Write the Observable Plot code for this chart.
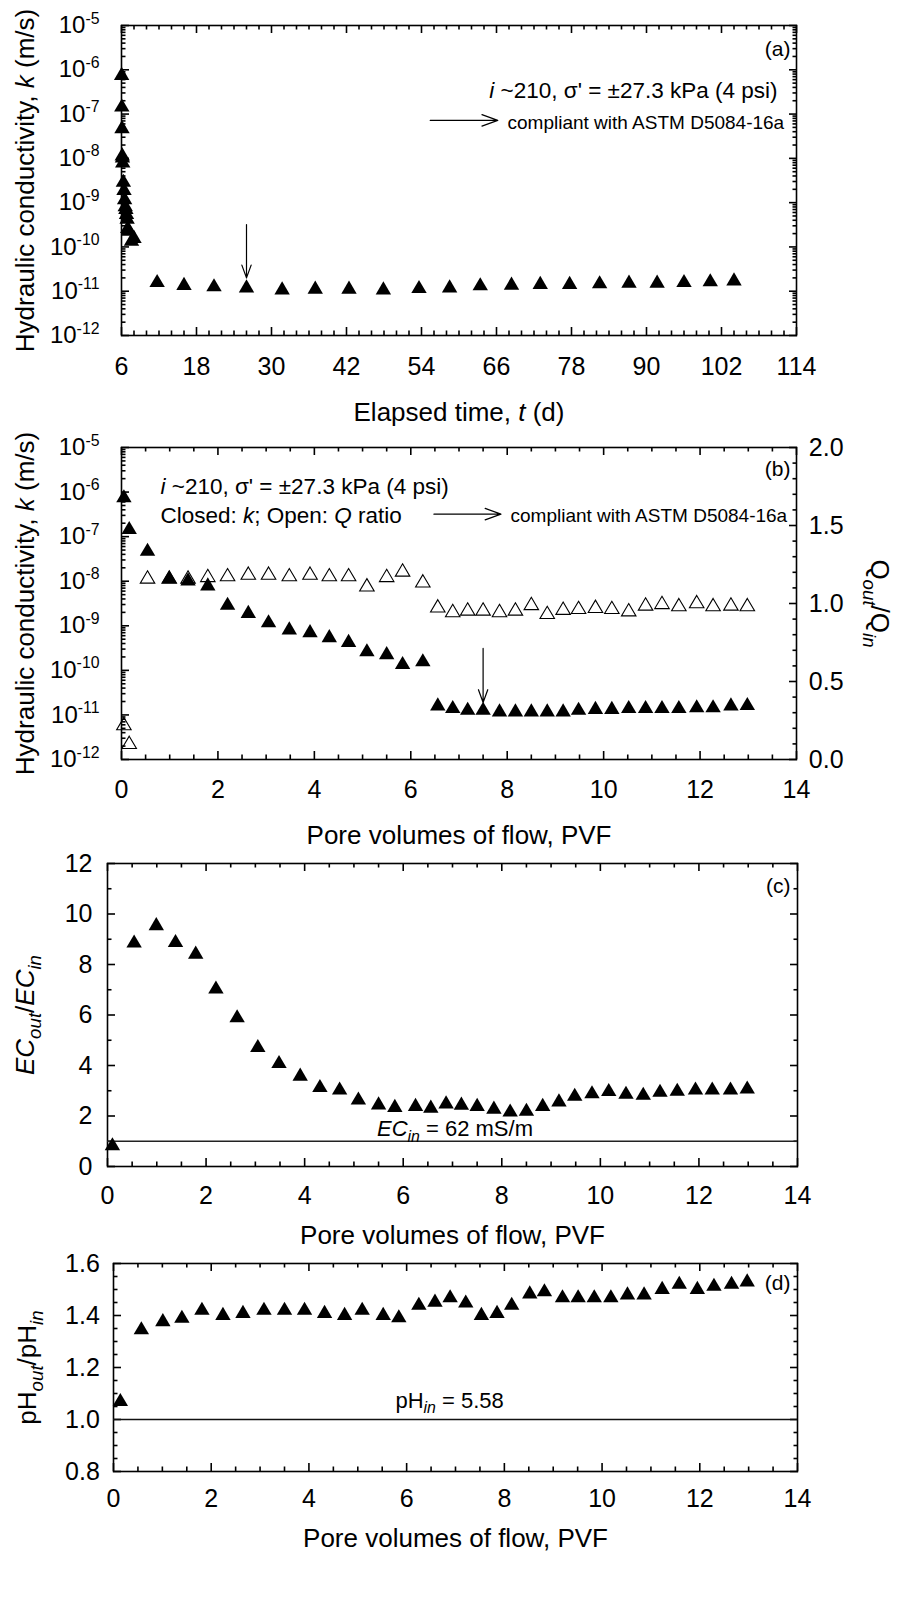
<!DOCTYPE html>
<html>
<head>
<meta charset="utf-8">
<script src="https://cdn.jsdelivr.net/npm/d3@7"></script>
<script src="https://cdn.jsdelivr.net/npm/@observablehq/plot@0.6"></script>
<style>
  html, body { margin: 0; padding: 0; background: #fff; }
  #wrap { position: relative; width: 898px; height: 1613px; overflow: hidden; }
  #wrap svg { position: absolute; left: 0; top: 0; overflow: visible; background: transparent !important; }
</style>
</head>
<body>
<div id="wrap"></div>
<script>
// ---------------- DATA ----------------
// Panel (a): hydraulic conductivity vs elapsed time (d)
const timeA = [6.02, 6.05, 6.08, 6.12, 6.15, 6.2, 6.3, 6.4, 6.5, 6.6, 6.7, 6.8, 6.9, 7.0, 7.2, 7.6, 8.0,
  11.7, 16.0, 20.8, 26.0, 31.7, 37.0, 42.4, 47.9, 53.6, 58.5, 63.4, 68.4, 73.0, 77.7, 82.5, 87.2, 91.7, 96.0, 100.2, 104.0];
const kA = [8.3e-7, 1.6e-7, 5.2e-8, 1.26e-8, 1.13e-8, 8.7e-9, 3.2e-9, 2.1e-9, 1.3e-9, 9.0e-10, 7.8e-10, 6.0e-10, 4.7e-10, 2.9e-10, 2.5e-10, 1.5e-10, 1.73e-10,
  1.75e-11, 1.5e-11, 1.4e-11, 1.32e-11, 1.19e-11, 1.24e-11, 1.24e-11, 1.19e-11, 1.28e-11, 1.32e-11, 1.47e-11, 1.52e-11, 1.58e-11, 1.58e-11, 1.63e-11, 1.69e-11, 1.69e-11, 1.75e-11, 1.81e-11, 1.9e-11];

// Panel (b): k (closed) and Q ratio (open) vs pore volumes of flow
const pvfB = [0.05, 0.16, 0.54, 0.99, 1.38, 1.79, 2.2, 2.63, 3.05, 3.48, 3.91, 4.31, 4.71, 5.09, 5.5, 5.83, 6.25,
  6.56, 6.87, 7.18, 7.5, 7.84, 8.17, 8.5, 8.83, 9.16, 9.48, 9.83, 10.17, 10.52, 10.87, 11.21, 11.56, 11.93, 12.27, 12.64, 12.98];
const kB = [8.3e-7, 1.6e-7, 5.2e-8, 1.26e-8, 1.13e-8, 8.7e-9, 3.2e-9, 2.1e-9, 1.3e-9, 9.0e-10, 7.8e-10, 6.0e-10, 4.7e-10, 2.9e-10, 2.5e-10, 1.5e-10, 1.73e-10,
  1.77e-11, 1.54e-11, 1.41e-11, 1.41e-11, 1.3e-11, 1.3e-11, 1.3e-11, 1.3e-11, 1.3e-11, 1.41e-11, 1.48e-11, 1.48e-11, 1.54e-11, 1.54e-11, 1.54e-11, 1.54e-11, 1.61e-11, 1.61e-11, 1.77e-11, 1.8e-11];
const qB = [0.23, 0.11, 1.17, 1.17, 1.17, 1.18, 1.185, 1.195, 1.195, 1.185, 1.195, 1.185, 1.185, 1.12, 1.18, 1.215, 1.145,
  0.985, 0.955, 0.965, 0.965, 0.955, 0.965, 1.0, 0.943, 0.97, 0.975, 0.982, 0.975, 0.96, 0.997, 1.007, 0.993, 1.012, 0.993, 0.997, 0.993];

// Panel (c): EC_out/EC_in
const pvfC = [0.1, 0.54, 0.99, 1.38, 1.79, 2.2, 2.63, 3.05, 3.48, 3.91, 4.31, 4.71, 5.09, 5.5, 5.83, 6.25, 6.56, 6.87,
  7.18, 7.5, 7.84, 8.17, 8.5, 8.83, 9.16, 9.48, 9.83, 10.17, 10.52, 10.87, 11.21, 11.56, 11.93, 12.27, 12.64, 12.98];
const ecC = [0.9, 8.93, 9.62, 8.95, 8.49, 7.11, 5.97, 4.79, 4.16, 3.66, 3.21, 3.11, 2.71, 2.52, 2.42, 2.46, 2.39, 2.56,
  2.51, 2.46, 2.35, 2.24, 2.27, 2.46, 2.64, 2.86, 2.96, 3.05, 2.94, 2.9, 3.02, 3.06, 3.11, 3.11, 3.11, 3.15];
const ecRef = [1];

// Panel (d): pH_out/pH_in
const pvfD = [0.14, 0.57, 1.01, 1.4, 1.81, 2.24, 2.65, 3.08, 3.5, 3.91, 4.32, 4.73, 5.09, 5.52, 5.84, 6.25, 6.58, 6.89,
  7.21, 7.53, 7.85, 8.15, 8.52, 8.82, 9.19, 9.51, 9.84, 10.18, 10.52, 10.86, 11.23, 11.58, 11.95, 12.29, 12.65, 12.97];
const phD = [1.077, 1.353, 1.384, 1.397, 1.428, 1.408, 1.416, 1.428, 1.428, 1.428, 1.416, 1.408, 1.428, 1.408, 1.399, 1.447, 1.459, 1.476,
  1.456, 1.408, 1.416, 1.447, 1.491, 1.499, 1.476, 1.476, 1.476, 1.476, 1.487, 1.487, 1.508, 1.528, 1.508, 1.52, 1.528, 1.537];
const phRef = [1];

// Tick values
const tickTimeMajor = [6, 18, 30, 42, 54, 66, 78, 90, 102, 114];
const tickPvfMajor = [0, 2, 4, 6, 8, 10, 12, 14];
const tickDecades = [1e-12, 1e-11, 1e-10, 1e-9, 1e-8, 1e-7, 1e-6, 1e-5];
const tickQMajor = [0, 0.5, 1.0, 1.5, 2.0];
const tickECMajor = [0, 2, 4, 6, 8, 10, 12];
const tickPHMajor = [0.8, 1.0, 1.2, 1.4, 1.6];

// Text
const titleK = "Hydraulic conductivity, {i:k} (m/s)";
const titleTime = "Elapsed time, {i:t} (d)";
const titlePVF = "Pore volumes of flow, PVF";
const titleQ = "Q{isub:out}/Q{isub:in}";
const titleEC = "{i:EC}{isub:out}/{i:EC}{isub:in}";
const titlePH = "pH{isub:out}/pH{isub:in}";
const noteCond = "{i:i} ~210, σ' = ±27.3 kPa (4 psi)";
const noteClosed = "Closed: {i:k}; Open: {i:Q} ratio";
const noteAstm = "compliant with ASTM D5084-16a";
const noteEC = "{i:EC}{isub:in} = 62 mS/m";
const notePH = "pH{isub:in} = 5.58";

// ---------------- helpers ----------------
const W = 898, H = 1613;
const STYLE = 'background: transparent; overflow: visible; font-family: "Liberation Sans", Arial, Helvetica, sans-serif; color: black;';
const range = (a, b, s) => { const out = []; for (let i = 0; a + i * s <= b + 1e-9; i++) out.push(+(a + i * s).toFixed(6)); return out; };
const minorOf = (all, major) => all.filter(v => !major.some(m => Math.abs(m - v) < 1e-9));
const logMinor = [];
for (let e = -12; e < -5; e++) for (let m = 2; m <= 9; m++) logMinor.push(m * Math.pow(10, e));

const tri = {
  draw(ctx, size) {
    const r = Math.sqrt(size / Math.PI);
    const w = r * 1.48, h = r * 1.26;
    ctx.moveTo(0, -h); ctx.lineTo(w, h); ctx.lineTo(-w, h); ctx.closePath();
  }
};

function margins(f) {
  return {width: W, height: H, marginLeft: f.left, marginRight: W - f.right, marginTop: f.top, marginBottom: H - f.bottom};
}
const SW = 1.6, MAJ = 8, MIN = 4.5;
// inward ticks on bottom + top
function xTicks(major, minor) {
  const m = [];
  for (const [vals, len] of [[major, MAJ], [minor, MIN]]) {
    m.push(Plot.axisX(vals, {anchor: "bottom", tickSize: len, dy: -len, fill: "none", label: null, strokeWidth: SW}));
    m.push(Plot.axisX(vals, {anchor: "top", tickSize: len, dy: len - 1, fill: "none", label: null, strokeWidth: SW}));
  }
  return m;
}
function xLabels(major, gap) {
  return Plot.axisX(major, {anchor: "bottom", tickSize: 0, tickPadding: gap, fontSize: 25, label: null});
}
// inward ticks on left (and optional right)
function yTicks(major, minor, left, right) {
  const m = [];
  for (const [vals, len] of [[major, MAJ], [minor, MIN]]) {
    if (left) m.push(Plot.axisY(vals, {anchor: "left", tickSize: len, dx: len, fill: "none", label: null, strokeWidth: SW}));
    if (right) m.push(Plot.axisY(vals, {anchor: "right", tickSize: len, dx: -len, fill: "none", label: null, strokeWidth: SW}));
  }
  return m;
}
function yLabels(major, anchor, gap, fontSize, fmt) {
  return Plot.axisY(major, {anchor, tickSize: 0, tickPadding: gap, fontSize, tickFormat: fmt, label: null});
}
const logFmt = d => "10{sup:" + Math.round(Math.log10(d)) + "}";

// convert "{i:..}", "{isub:..}", "{sup:..}" markup into tspans
function richify(svg) {
  d3.select(svg).selectAll("text").each(function () {
    const s = this.textContent;
    if (!s || !s.includes("{")) return;
    const parts = [];
    const re = /\{(\w+):([^}]*)\}/g;
    let last = 0, m;
    while ((m = re.exec(s))) {
      if (m.index > last) parts.push(["n", s.slice(last, m.index)]);
      parts.push([m[1], m[2]]);
      last = re.lastIndex;
    }
    if (last < s.length) parts.push(["n", s.slice(last)]);
    const el = d3.select(this);
    el.text(null);
    let shift = 0;
    for (const [k, t] of parts) {
      const ts = el.append("tspan").text(t);
      let target = 0, scale = 1, italic = false;
      if (k === "i") italic = true;
      if (k === "isub") { target = 0.27; scale = 0.72; italic = true; }
      if (k === "sub") { target = 0.27; scale = 0.72; }
      if (k === "sup") { target = -0.4; scale = 0.66; }
      if (italic) ts.attr("font-style", "italic");
      if (scale !== 1) ts.attr("font-size", scale + "em");
      const d = target - shift;
      if (Math.abs(d) > 1e-9) ts.attr("dy", (d / scale).toFixed(3) + "em");
      shift = target;
    }
  });
}

const wrap = document.getElementById("wrap");
function add(plot) { richify(plot); wrap.appendChild(plot); }

// frames (page pixel boxes of each panel)
const fA = {left: 121, right: 796, top: 25, bottom: 335};
const fB = {left: 121, right: 796, top: 447, bottom: 759};
const fC = {left: 107, right: 797, top: 863, bottom: 1166};
const fD = {left: 113, right: 797, top: 1263, bottom: 1471};

// annotation arrows (data coordinates)
const arrowA1 = [{x1: 55.4, x2: 66.2, y1: 7.2e-8, y2: 7.2e-8}];
const arrowA2 = [{x1: 26.0, x2: 26.0, y1: 3.2e-10, y2: 2.0e-11}];
const arrowB1 = [{x1: 6.48, x2: 7.87, y1: 3.2e-7, y2: 3.2e-7}];
const arrowB2 = [{x1: 7.5, x2: 7.5, y1: 3.1e-10, y2: 1.9e-11}];

const rowsA = timeA.map((t, i) => ({t, k: kA[i]}));
const rowsB = pvfB.map((p, i) => ({p, k: kB[i], q: qB[i]}));
const rowsC = pvfC.map((p, i) => ({p, v: ecC[i]}));
const rowsD = pvfD.map((p, i) => ({p, v: phD[i]}));

const arrowOpts = {x1: "x1", y1: "y1", x2: "x2", y2: "y2", stroke: "black", strokeWidth: 1.2, headAngle: 40};
const R = 5.2;
const pvfMinor = minorOf(range(0, 14, 0.5), tickPvfMajor);

// ---------------- Panel (a) ----------------
add(Plot.plot({
  ...margins(fA), style: STYLE,
  x: {domain: [6, 114]},
  y: {type: "log", domain: [1e-12, 1e-5]},
  marks: [
    ...xTicks(tickTimeMajor, minorOf(range(6, 114, 2), tickTimeMajor)),
    xLabels(tickTimeMajor, 21.7),
    ...yTicks(tickDecades, logMinor, true, true),
    yLabels(tickDecades, "left", 22, 24, logFmt),
    Plot.frame({stroke: "black", strokeWidth: 1.6}),
    Plot.dot(rowsA, {x: "t", y: "k", symbol: tri, r: R, fill: "black", stroke: "none"}),
    Plot.arrow(arrowA1, {...arrowOpts, headLength: 21}),
    Plot.arrow(arrowA2, {...arrowOpts, headLength: 17}),
    Plot.text(["(a)"], {frameAnchor: "top-right", textAnchor: "end", lineAnchor: "middle", dx: -6, dy: 23.5, fontSize: 21}),
    Plot.text([noteCond], {frameAnchor: "top-right", textAnchor: "end", lineAnchor: "bottom", dx: -19, dy: 72, fontSize: 22.5}),
    Plot.text([noteAstm], {frameAnchor: "top-left", textAnchor: "start", lineAnchor: "bottom", dx: 386, dy: 103, fontSize: 19}),
    Plot.text([titleK], {frameAnchor: "left", rotate: -90, textAnchor: "middle", lineAnchor: "bottom", dx: -88, fontSize: 26}),
    Plot.text([titleTime], {frameAnchor: "bottom", textAnchor: "middle", lineAnchor: "bottom", dy: 85, fontSize: 26})
  ]
}));

// ---------------- Panel (b): Q ratio layer (right axis, drawn below) ----------------
add(Plot.plot({
  ...margins(fB), style: STYLE,
  x: {domain: [0, 14], axis: null},
  y: {domain: [0, 2]},
  marks: [
    ...yTicks(tickQMajor, minorOf(range(0, 2, 0.1), tickQMajor), false, true),
    yLabels(tickQMajor, "right", 12.3, 25, d3.format(".1f")),
    Plot.dot(rowsB, {x: "p", y: "q", symbol: tri, r: 4.9, fill: "white", stroke: "black", strokeWidth: 1.1}),
    Plot.text([titleQ], {frameAnchor: "right", rotate: 90, textAnchor: "middle", lineAnchor: "bottom", dx: 74, fontSize: 26})
  ]
}));

// ---------------- Panel (b): k layer ----------------
add(Plot.plot({
  ...margins(fB), style: STYLE,
  x: {domain: [0, 14]},
  y: {type: "log", domain: [1e-12, 1e-5]},
  marks: [
    ...xTicks(tickPvfMajor, pvfMinor),
    xLabels(tickPvfMajor, 21),
    ...yTicks(tickDecades, logMinor, true, false),
    yLabels(tickDecades, "left", 22, 24, logFmt),
    Plot.frame({stroke: "black", strokeWidth: 1.6}),
    Plot.dot(rowsB, {x: "p", y: "k", symbol: tri, r: R, fill: "black", stroke: "none"}),
    Plot.arrow(arrowB1, {...arrowOpts, headLength: 21}),
    Plot.arrow(arrowB2, {...arrowOpts, headLength: 17}),
    Plot.text(["(b)"], {frameAnchor: "top-right", textAnchor: "end", lineAnchor: "middle", dx: -6, dy: 21.5, fontSize: 21}),
    Plot.text([noteCond], {frameAnchor: "top-left", textAnchor: "start", lineAnchor: "bottom", dx: 39, dy: 46, fontSize: 22.5}),
    Plot.text([noteClosed], {frameAnchor: "top-left", textAnchor: "start", lineAnchor: "bottom", dx: 39, dy: 75.5, fontSize: 22.5}),
    Plot.text([noteAstm], {frameAnchor: "top-left", textAnchor: "start", lineAnchor: "bottom", dx: 389, dy: 74, fontSize: 19}),
    Plot.text([titleK], {frameAnchor: "left", rotate: -90, textAnchor: "middle", lineAnchor: "bottom", dx: -88, fontSize: 26}),
    Plot.text([titlePVF], {frameAnchor: "bottom", textAnchor: "middle", lineAnchor: "bottom", dy: 84, fontSize: 26})
  ]
}));

// ---------------- Panel (c) ----------------
add(Plot.plot({
  ...margins(fC), style: STYLE,
  x: {domain: [0, 14]},
  y: {domain: [0, 12]},
  marks: [
    ...xTicks(tickPvfMajor, pvfMinor),
    xLabels(tickPvfMajor, 20),
    ...yTicks(tickECMajor, minorOf(range(0, 12, 1), tickECMajor), true, true),
    yLabels(tickECMajor, "left", 15, 25, d => String(d)),
    Plot.frame({stroke: "black", strokeWidth: 1.6}),
    Plot.ruleY(ecRef, {stroke: "#222", strokeWidth: 1.5}),
    Plot.dot(rowsC, {x: "p", y: "v", symbol: tri, r: R, fill: "black", stroke: "none"}),
    Plot.text([{x: 7.05, y: ecRef[0], s: noteEC}], {x: "x", y: "y", text: "s", textAnchor: "middle", lineAnchor: "bottom", dy: -5, fontSize: 22}),
    Plot.text(["(c)"], {frameAnchor: "top-right", textAnchor: "end", lineAnchor: "middle", dx: -7, dy: 23, fontSize: 21}),
    Plot.text([titleEC], {frameAnchor: "left", rotate: -90, textAnchor: "middle", lineAnchor: "bottom", dx: -74, fontSize: 26}),
    Plot.text([titlePVF], {frameAnchor: "bottom", textAnchor: "middle", lineAnchor: "bottom", dy: 77, fontSize: 26})
  ]
}));

// ---------------- Panel (d) ----------------
add(Plot.plot({
  ...margins(fD), style: STYLE,
  x: {domain: [0, 14]},
  y: {domain: [0.8, 1.6]},
  marks: [
    ...xTicks(tickPvfMajor, pvfMinor),
    xLabels(tickPvfMajor, 18),
    ...yTicks(tickPHMajor, minorOf(range(0.8, 1.6, 0.05), tickPHMajor), true, true),
    yLabels(tickPHMajor, "left", 13.7, 25, d3.format(".1f")),
    Plot.frame({stroke: "black", strokeWidth: 1.6}),
    Plot.ruleY(phRef, {stroke: "#111", strokeWidth: 1.5}),
    Plot.dot(rowsD, {x: "p", y: "v", symbol: tri, r: R, fill: "black", stroke: "none"}),
    Plot.text([{x: 6.88, y: phRef[0], s: notePH}], {x: "x", y: "y", text: "s", textAnchor: "middle", lineAnchor: "bottom", dy: -12, fontSize: 22}),
    Plot.text(["(d)"], {frameAnchor: "top-right", textAnchor: "end", lineAnchor: "middle", dx: -7, dy: 20, fontSize: 21}),
    Plot.text([titlePH], {frameAnchor: "left", rotate: -90, textAnchor: "middle", lineAnchor: "bottom", dx: -78, fontSize: 26}),
    Plot.text([titlePVF], {frameAnchor: "bottom", textAnchor: "middle", lineAnchor: "bottom", dy: 75, fontSize: 26})
  ]
}));
</script>
</body>
</html>
